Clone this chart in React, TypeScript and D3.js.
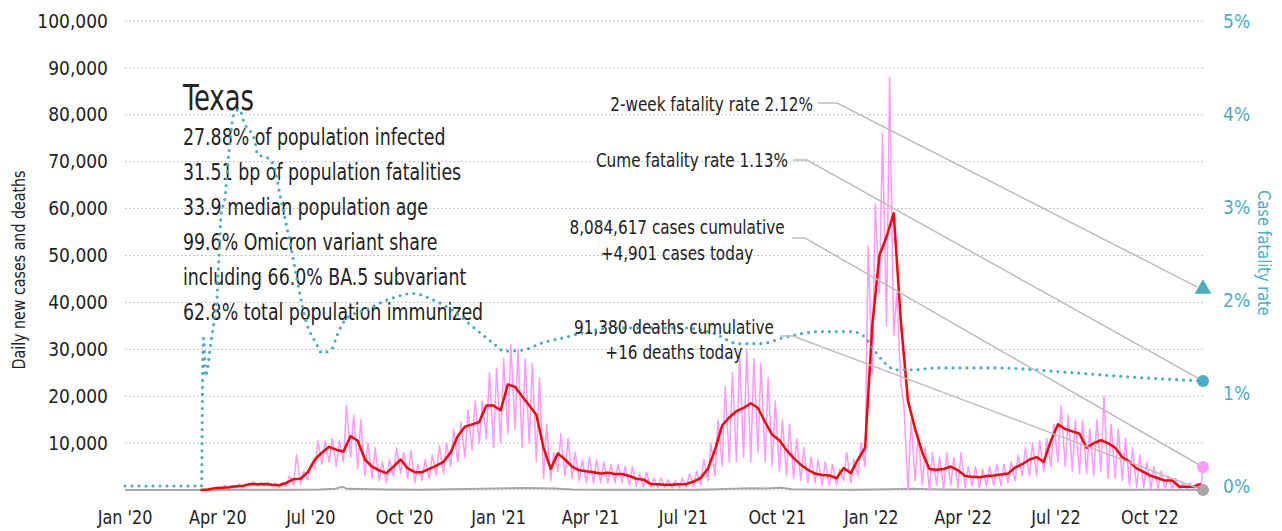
import React from 'react'
import * as d3 from 'd3'

const width = 1282
const height = 531
const FONT = '"Liberation Sans Narrow", "Arial Narrow", "DejaVu Sans Condensed", "Roboto", sans-serif'

// weekly values, week 0 = Sun Mar 15 2020
const weekStart = new Date(2020, 2, 15)
const avgCases = [
  0, 100, 400, 500, 600, 800, 900, 1300,
  1200, 1300, 1100, 1000, 1500, 2300, 2400, 3800, 6500, 8000,
  9200, 8600, 8200, 11500, 10500, 6500, 5000, 4200, 3600, 5000,
  6500, 4600, 3800, 3800, 4500, 5200, 6000, 8000, 11500, 13500,
  14000, 14500, 18000, 18000, 17000, 22500, 22000, 20000, 18000, 16000,
  9000, 4500, 7800, 6500, 5000, 4200, 4000, 3800, 3500, 3700,
  3400, 3400, 3000, 2400, 2200, 1300, 1200, 1100, 1100, 1200,
  1300, 1800, 2600, 4500, 8600, 13800, 15500, 16800, 17500, 18500,
  17500, 14500, 11800, 10600, 8500, 6800, 5400, 4300, 3500, 3200,
  3100, 2500, 4700, 3600, 6500, 9000, 35000, 50000, 54000, 59000,
  36000, 19000, 13000, 8000, 4500, 4300, 4500, 5000, 4200, 3000,
  2800, 2700, 3000, 3100, 3300, 3500, 4800, 5500, 6500, 7000,
  6000, 10500, 14000, 13000, 12500, 12000, 9000, 10000, 10600, 10000,
  9000, 7000, 6000, 4600, 3800, 3000, 2500, 2000, 2000, 700,
  700, 700, 1300,
]
// daily cases: weekly peak (mid-week) and trough (weekend)
const dailyHigh = [
  50, 300, 700, 1000, 1000, 1200, 1300, 1800,
  1600, 1700, 1500, 1600, 3000, 7500, 4000, 5500, 10500, 10500,
  11000, 10500, 18000, 16000, 15000, 10000, 9000, 6000, 6500, 9000,
  8000, 8500, 5500, 6500, 7500, 9500, 10000, 13000, 14500, 17000,
  19000, 19000, 25000, 26000, 28000, 31000, 30000, 28000, 27000, 24000,
  14000, 8000, 12000, 11000, 8000, 6500, 7000, 6500, 6000, 5500,
  5500, 5000, 5000, 3500, 3800, 2500, 2600, 2200, 2000, 2500,
  3500, 4000, 6500, 10000, 15000, 22000, 25000, 29000, 30000, 28000,
  27000, 24000, 19000, 15000, 14000, 11000, 9000, 7000, 6500, 6000,
  5500, 4500, 8000, 6500, 10000, 52000, 61000, 76000, 88000, 42000,
  18000, 15000, 12000, 9000, 8000, 7000, 8000, 7000, 8000, 5000,
  5000, 4500, 5000, 5500, 5500, 6000, 7500, 9000, 10000, 10500,
  11000, 14000, 18000, 16000, 15000, 15000, 13000, 15000, 20000, 14000,
  13000, 11000, 9000, 7500, 6000, 5000, 4000, 3000, 2500, 1500,
  1500, 1500, 1500,
]
const dailyLow = [
  0, 50, 200, 300, 300, 500, 600, 900,
  800, 900, 700, 500, 700, 1000, 1200, 2200, 4500, 5500,
  6000, 5000, 6000, 7000, 4500, 3000, 2500, 2000, 1500, 3000,
  3500, 2500, 1500, 2000, 2500, 3000, 3500, 5000, 6000, 7000,
  8500, 10000, 11000, 9000, 10000, 12000, 13000, 9000, 10000, 6000,
  2500, 2000, 4000, 3000, 2500, 2000, 1500, 1500, 1500, 1500,
  1500, 1500, 1000, 800, 700, 600, 500, 500, 400, 500,
  500, 700, 1000, 2000, 3000, 5000, 6000, 6000, 7000, 6000,
  8000, 6000, 5000, 4000, 3000, 2500, 2000, 1500, 1500, 1000,
  1000, 1000, 2000, 1500, 3000, 5000, 25000, 42000, 35000, 33000,
  23000, 0, 2000, 1000, 0, 1000, 0, 1000, 500, 500,
  800, 500, 800, 1000, 1000, 1500, 2000, 3000, 3000, 3000,
  4000, 5000, 6000, 5000, 4000, 3500, 3500, 3000, 4000, 2500,
  2500, 2000, 1000, 500, 500, 300, 300, 200, 200, 200,
  200, 200, 300,
]

const deathDates = [
  '2020-01-01', '2020-03-15', '2020-04-15', '2020-06-15', '2020-07-10', '2020-07-25', '2020-08-01',
  '2020-08-05', '2020-08-20', '2020-09-15', '2020-10-15', '2020-11-15', '2020-12-15', '2021-01-10',
  '2021-01-25', '2021-02-10', '2021-02-25', '2021-03-15', '2021-04-15', '2021-06-15', '2021-07-15',
  '2021-08-20', '2021-09-05', '2021-09-20', '2021-10-05', '2021-10-15', '2021-11-15', '2021-12-15',
  '2022-01-20', '2022-02-10', '2022-03-10', '2022-04-15', '2022-06-15', '2022-08-01', '2022-09-01',
  '2022-10-01', '2022-11-22',
]
const deathValues = [
  0, 0, 30, 30, 100, 250, 700,
  250, 200, 100, 80, 150, 250, 350,
  450, 350, 300, 100, 50, 30, 40,
  250, 350, 300, 500, 150, 80, 70,
  150, 250, 100, 30, 30, 60, 50,
  40, 16,
]

// case fatality rate, %
const cfrDates = [
  '2020-01-01', '2020-03-16', '2020-03-17', '2020-03-18', '2020-03-20', '2020-03-22', '2020-03-25',
  '2020-03-29', '2020-03-31', '2020-04-02', '2020-04-04', '2020-04-08', '2020-04-12', '2020-04-17',
  '2020-04-22', '2020-04-27', '2020-05-07', '2020-05-10', '2020-05-17', '2020-05-23', '2020-05-27',
  '2020-06-01', '2020-06-06', '2020-06-12', '2020-06-17', '2020-06-22', '2020-06-27', '2020-07-06',
  '2020-07-12', '2020-07-22', '2020-07-26', '2020-08-05', '2020-08-25', '2020-09-14', '2020-10-09',
  '2020-10-29', '2020-11-18', '2020-12-08', '2020-12-25', '2021-01-07', '2021-01-24', '2021-02-13',
  '2021-03-08', '2021-03-25', '2021-04-24', '2021-05-24', '2021-06-30', '2021-07-31', '2021-08-24',
  '2021-09-14', '2021-10-09', '2021-11-11', '2021-12-13', '2021-12-26', '2022-01-02', '2022-01-12',
  '2022-01-25', '2022-02-13', '2022-03-05', '2022-05-01', '2022-07-15', '2022-09-01', '2022-10-15',
  '2022-11-22',
]
const cfrValues = [
  0, 0, 1.15, 1.59, 1.18, 1.27, 1.53,
  1.82, 2.0, 2.46, 2.9, 3.11, 3.61, 4.01,
  4.05, 3.9, 3.72, 3.56, 3.54, 3.5, 3.4,
  3.12, 2.86, 2.54, 2.25, 1.97, 1.75, 1.54,
  1.43, 1.48, 1.6, 1.8, 1.9, 2.0, 2.07,
  2.0, 1.88, 1.7, 1.55, 1.45, 1.46, 1.54,
  1.6, 1.65, 1.7, 1.7, 1.7, 1.64, 1.53,
  1.53, 1.6, 1.66, 1.66, 1.6, 1.49, 1.35,
  1.25, 1.25, 1.27, 1.27, 1.22, 1.18, 1.15,
  1.13,
]

const endDate = new Date(2022, 10, 22)
const casesToday = 4901
const deathsToday = 16
const cumeRate = 1.13
const twoWeekRate = 2.12

const xTickDates = ['2020-01-01', '2020-04-01', '2020-07-01', '2020-10-01', '2021-01-01', '2021-04-01',
  '2021-07-01', '2021-10-01', '2022-01-01', '2022-04-01', '2022-07-01', '2022-10-01']
const xTickLabels = ["Jan '20", "Apr '20", "Jul '20", "Oct '20", "Jan '21", "Apr '21",
  "Jul '21", "Oct '21", "Jan '22", "Apr '22", "Jul '22", "Oct '22"]
const leftTicks = [10000, 20000, 30000, 40000, 50000, 60000, 70000, 80000, 90000, 100000]
const rightTicks = [0, 1, 2, 3, 4, 5]

const infoLines = [
  '27.88% of population infected',
  '31.51 bp of population fatalities',
  '33.9 median population age',
  '99.6% Omicron variant share',
  'including 66.0% BA.5 subvariant',
  '62.8% total population immunized',
]

const parse = d3.timeParse('%Y-%m-%d')
const teal = '#4bacc6'
const leader = '#bdbdbd'

// narrow text: the installed fonts are wider than the original condensed face
function NText({ x, y, size, sx = 0.86, anchor = 'start', fill = '#222', rotate = 0, children }: any) {
  return (
    <text transform={`translate(${x},${y}) rotate(${rotate}) scale(${sx},1)`} fontSize={size}
      textAnchor={anchor} fill={fill} dy="0.35em">{children}</text>
  )
}

export default function App() {
  const x = d3.scaleTime().domain([new Date(2020, 0, 1), endDate]).range([125, 1203])
  const y = d3.scaleLinear().domain([0, 100000]).range([490, 21])
  const yR = d3.scaleLinear().domain([0, 5]).range([486, 21])

  const weekDate = (i: number, off = 0) => d3.timeDay.offset(weekStart, i * 7 + off)

  const redPts: [Date, number][] = avgCases.map((v, i) => [weekDate(i), v])
  let pinkPts: [Date, number][] = []
  dailyHigh.forEach((h, i) => {
    pinkPts.push([weekDate(i), dailyLow[i]])
    pinkPts.push([weekDate(i, 3), h])
  })
  pinkPts = pinkPts.filter(p => p[0] < endDate)
  pinkPts.push([endDate, casesToday])

  const deathPts: [Date, number][] = deathDates.map((d, i) => [parse(d)!, deathValues[i]])
  const cfrPts: [Date, number][] = cfrDates.map((d, i) => [parse(d)!, cfrValues[i]])

  const line = d3.line<[Date, number]>().x(d => x(d[0])).y(d => y(d[1]))
  const cfrLine = d3.line<[Date, number]>().curve(d3.curveMonotoneX).x(d => x(d[0])).y(d => yR(d[1]))

  const ex = x(endDate)
  const leaders = [
    { x0: 818, x1: 837, y0: 103, tx: ex - 6, ty: yR(twoWeekRate) - 2 },
    { x0: 793, x1: 807, y0: 160, tx: ex, ty: yR(cumeRate) },
    { x0: 792, x1: 805, y0: 238, tx: ex, ty: y(casesToday) },
    { x0: 780, x1: 793, y0: 336, tx: ex, ty: y(deathsToday) },
  ]

  const tri = d3.symbol().type(d3.symbolTriangle).size(120)()

  return (
    <svg width={width} height={height} style={{ display: 'block', position: 'absolute', left: 0, top: 0 }}
      fontFamily={FONT}>
      <rect width={width} height={height} fill="#fff" />
      <g>
        {[0, ...leftTicks].map(t => (
          <line key={t} x1={125} x2={1203} y1={y(t)} y2={y(t)} stroke="#c4c4c4" strokeWidth={1}
            strokeDasharray="2,2" />
        ))}
      </g>
      <g fontSize={19} fill="#222" textAnchor="end">
        {leftTicks.map(t => (
          <text key={t} x={108} y={y(t)} dy="0.35em">{d3.format(',')(t)}</text>
        ))}
      </g>
      <g fontSize={19} fill={teal} textAnchor="start">
        {rightTicks.map(t => (
          <text key={t} x={1223} y={yR(t)} dy="0.35em">{t}%</text>
        ))}
      </g>
      <g>
        {xTickDates.map((d, i) => (
          <NText key={d} x={x(parse(d)!)} y={517} size={19} sx={0.94} anchor="middle">{xTickLabels[i]}</NText>
        ))}
      </g>
      <NText x={19} y={270} size={18} sx={0.88} rotate={-90} anchor="middle">Daily new cases and deaths</NText>
      <NText x={1264} y={253} size={18} sx={0.9} rotate={90} anchor="middle" fill={teal}>Case fatality rate</NText>

      <path d={line(deathPts)!} fill="none" stroke="#a6a6a6" strokeWidth={2} />
      <path d={line(pinkPts)!} fill="none" stroke="#ff99ff" strokeWidth={1.5} strokeLinejoin="round" />
      <path d={line(redPts)!} fill="none" stroke="#ff0000" strokeWidth={2.5} strokeLinejoin="round" />

      <NText x={183} y={97} size={36} sx={0.8}>Texas</NText>
      {infoLines.map((s, i) => (
        <NText key={s} x={183} y={137 + i * 35} size={23} sx={0.84}>{s}</NText>
      ))}

      <path d={cfrLine(cfrPts)!} fill="none" stroke={teal} strokeWidth={3.2} strokeDasharray="0,7"
        strokeLinecap="round" />

      <g fill="none" stroke={leader} strokeWidth={1.5}>
        {leaders.map((l, i) => (
          <polyline key={i} points={`${l.x0},${l.y0} ${l.x1},${l.y0} ${l.tx},${l.ty}`} />
        ))}
      </g>

      <path d={tri!} transform={`translate(${ex},${yR(twoWeekRate)})`} fill={teal} />
      <circle cx={ex} cy={yR(cumeRate)} r={6} fill={teal} />
      <circle cx={ex} cy={y(casesToday)} r={6} fill="#ff99ff" />
      <circle cx={ex} cy={y(deathsToday)} r={6} fill="#a6a6a6" />

      <NText x={813} y={104} size={19.5} sx={0.87} anchor="end">2-week fatality rate {twoWeekRate.toFixed(2)}%</NText>
      <NText x={788} y={160} size={19.5} sx={0.87} anchor="end">Cume fatality rate {cumeRate.toFixed(2)}%</NText>
      <NText x={677} y={227} size={19.5} sx={0.87} anchor="middle">8,084,617 cases cumulative</NText>
      <NText x={677} y={253} size={19.5} sx={0.87} anchor="middle">+{d3.format(',')(casesToday)} cases today</NText>
      <NText x={674} y={327} size={19.5} sx={0.87} anchor="middle">91,380 deaths cumulative</NText>
      <NText x={674} y={352} size={19.5} sx={0.87} anchor="middle">+{deathsToday} deaths today</NText>
    </svg>
  )
}
